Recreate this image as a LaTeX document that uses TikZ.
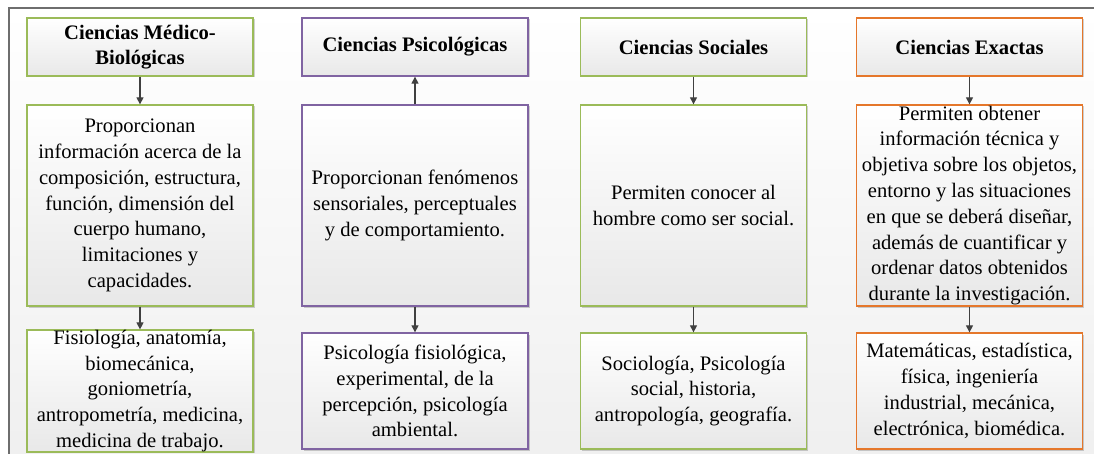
\documentclass[tikz,border=0pt]{standalone}
\usepackage{fontspec}
\setmainfont{Liberation Serif}
\usetikzlibrary{arrows.meta,shadows}
\definecolor{gborder}{HTML}{9BBB59}
\definecolor{pborder}{HTML}{8064A2}
\definecolor{oborder}{HTML}{E5772B}
\definecolor{framegray}{HTML}{6E6E6E}
\definecolor{arrowgray}{HTML}{404040}
\tikzset{
  box/.style={draw, line width=1.3pt, rectangle, inner sep=0pt, align=center,
    top color=white, bottom color=black!9,
    drop shadow={shadow xshift=1.5pt, shadow yshift=-1.5pt, fill=black, opacity=0.18},
    font=\fontsize{20.6}{25.8}\selectfont},
  head/.style={box, minimum width=226pt, minimum height=58pt,
    font=\fontsize{20.6}{24.5}\selectfont\bfseries},
  mid/.style={box, minimum width=226pt, minimum height=201pt},
  low/.style={box, minimum width=226pt, minimum height=116pt},
  green/.style={draw=gborder},
  purple/.style={draw=pborder},
  orange/.style={draw=oborder},
  link/.style={draw=arrowgray, line width=1.2pt, -{Triangle[length=7pt,width=7pt]}}
}
\begin{document}
\begin{tikzpicture}[x=1pt, y=-1pt]
  \useasboundingbox (0,0) rectangle (1094,454);
  % light panel behind the chart
  \shade[top color=white, bottom color=black!6] (9,8) rectangle (1094,454);
  \draw[framegray, line width=2pt] (8,8) -- (1094,8);
  \draw[framegray, line width=1.5pt] (9,8) -- (9,454);

  % column 1
  \node[head, green] (h1) at (140,47) {Ciencias Médico-\\Biológicas};
  \node[mid, green] (m1) at (140,205.5) {Proporcionan\\información acerca de la\\composición, estructura,\\función, dimensión del\\cuerpo humano,\\limitaciones y\\capacidades.};
  \node[low, green] (l1) at (140,391) {Fisiología, anatomía,\\biomecánica,\\goniometría,\\antropometría, medicina,\\medicina de trabajo.};

  % column 2
  \node[head, purple] (h2) at (415,47) {Ciencias Psicológicas};
  \node[mid, purple] (m2) at (415,205.5) {Proporcionan fenómenos\\sensoriales, perceptuales\\y de comportamiento.};
  \node[low, purple] (l2) at (415,391) {Psicología fisiológica,\\experimental, de la\\percepción, psicología\\ambiental.};

  % column 3
  \node[head, green] (h3) at (693.5,47) {Ciencias Sociales};
  \node[mid, green] (m3) at (693.5,205.5) {Permiten conocer al\\hombre como ser social.};
  \node[low, green] (l3) at (693.5,391) {Sociología, Psicología\\social, historia,\\antropología, geografía.};

  % column 4
  \node[head, orange] (h4) at (969.5,47) {Ciencias Exactas};
  \node[mid, orange] (m4) at (969.5,205.5) {Permiten obtener\\información técnica y\\objetiva sobre los objetos,\\entorno y las situaciones\\en que se deberá diseñar,\\además de cuantificar y\\ordenar datos obtenidos\\durante la investigación.};
  \node[low, orange] (l4) at (969.5,391) {Matemáticas, estadística,\\física, ingeniería\\industrial, mecánica,\\electrónica, biomédica.};

  % connectors
  \draw[link] (h1) -- (m1);
  \draw[link] (m1) -- (l1);
  \draw[link] (m2) -- (h2);
  \draw[link] (m2) -- (l2);
  \draw[link] (h3) -- (m3);
  \draw[link] (m3) -- (l3);
  \draw[link] (h4) -- (m4);
  \draw[link] (m4) -- (l4);
\end{tikzpicture}
\end{document}
